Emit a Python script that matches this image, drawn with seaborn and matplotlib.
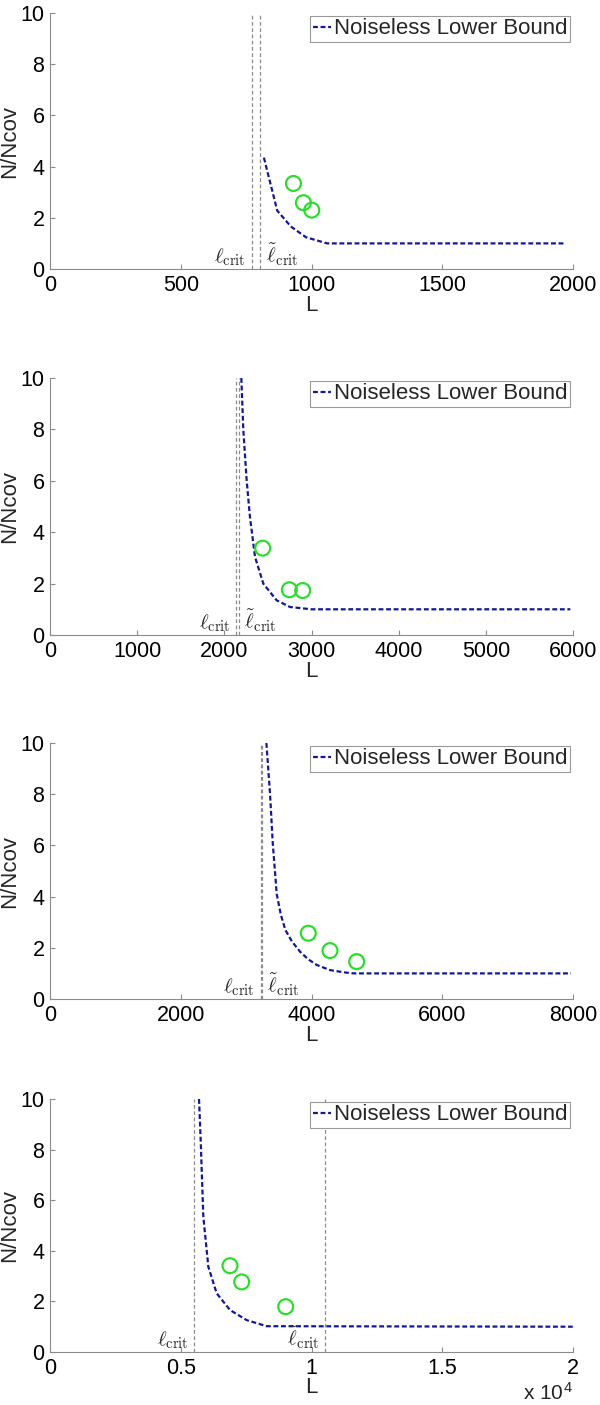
import numpy as np
import pandas as pd
import matplotlib
matplotlib.use("Agg")
import matplotlib.pyplot as plt
import seaborn as sns

# ---- data (L on x, N/Ncov on y) ----
# panel 1
bound_L1 = [818, 869, 921, 979, 1060, 1970]
bound_r1 = [4.35, 2.28, 1.66, 1.24, 1.0, 1.0]
sim_L1 = [931, 969, 1001]
sim_r1 = [3.34, 2.59, 2.30]
crit1, crit_tilde1 = 771, 803

# panel 2
bound_L2 = [2195, 2218, 2256, 2294, 2352, 2447, 2600, 2753, 3000, 5970]
bound_r2 = [10.0, 7.97, 6.02, 4.59, 3.04, 2.0, 1.35, 1.09, 1.0, 1.0]
sim_L2 = [2440, 2746, 2899]
sim_r2 = [3.38, 1.76, 1.73]
crit2, crit_tilde2 = 2134, 2164

# panel 3
bound_L3 = [3310, 3366, 3407, 3468, 3530, 3600, 3700, 3825, 3950, 4080, 4283, 4500, 4650, 7970]
bound_r3 = [10.0, 8.0, 6.1, 4.1, 3.3, 2.7, 2.25, 1.85, 1.55, 1.33, 1.13, 1.04, 1.0, 1.0]
sim_L3 = [3951, 4283, 4691]
sim_r3 = [2.57, 1.89, 1.46]
crit3, crit_tilde3 = 3222, 3238

# panel 4
bound_L4 = [5698, 5762, 5863, 6055, 6373, 6883, 7520, 8285, 19990]
bound_r4 = [10.0, 8.38, 5.35, 3.37, 2.32, 1.66, 1.26, 1.02, 1.0]
sim_L4 = [6883, 7331, 9013]
sim_r4 = [3.41, 2.77, 1.79]
crit4, crit_tilde4 = 5510, 10510

xmax = [2000, 6000, 8000, 20000]
xticks = [[0, 500, 1000, 1500, 2000],
          [0, 1000, 2000, 3000, 4000, 5000, 6000],
          [0, 2000, 4000, 6000, 8000],
          [0, 5000, 10000, 15000, 20000]]
xticklabels = [["0", "500", "1000", "1500", "2000"],
               ["0", "1000", "2000", "3000", "4000", "5000", "6000"],
               ["0", "2000", "4000", "6000", "8000"],
               ["0", "0.5", "1", "1.5", "2"]]
yticks = [0, 2, 4, 6, 8, 10]

bound_L = [bound_L1, bound_L2, bound_L3, bound_L4]
bound_r = [bound_r1, bound_r2, bound_r3, bound_r4]
sim_L = [sim_L1, sim_L2, sim_L3, sim_L4]
sim_r = [sim_r1, sim_r2, sim_r3, sim_r4]
crit = [crit1, crit2, crit3, crit4]
crit_tilde = [crit_tilde1, crit_tilde2, crit_tilde3, crit_tilde4]
tilde_side = ["right", "right", "right", "left"]

sns.set_theme(style="ticks")
plt.rcParams['font.family'] = ['Liberation Sans', 'DejaVu Sans']
plt.rcParams['mathtext.fontset'] = 'cm'

navy = "#12189a"
green = "#2edc2e"
gray = "#8c8c8c"

fig = plt.figure(figsize=(6, 14.05), dpi=100)
H = 1405.0
# axes boxes in pixels: (top, bottom)
rows = [(13, 269), (378, 635), (743, 999), (1099, 1352)]

for i in range(4):
    top, bot = rows[i]
    ax = fig.add_axes([50 / 600, 1 - bot / H, 523 / 600, (bot - top) / H])

    df = pd.DataFrame({"L": bound_L[i], "ratio": bound_r[i]})
    sns.lineplot(data=df, x="L", y="ratio", ax=ax, color=navy, linewidth=1.6,
                 sort=False, label="Noiseless Lower Bound")
    ax.lines[-1].set_linestyle((0, (2.2, 1.2)))

    sns.scatterplot(x=sim_L[i], y=sim_r[i], ax=ax, s=115, marker="o",
                    color=green, facecolor="none", edgecolor=green,
                    linewidth=1.6, legend=False, zorder=3)

    ax.axvline(crit[i], color=gray, lw=0.9, ls=(0, (3, 2)))
    ax.axvline(crit_tilde[i], color=gray, lw=0.9, ls=(0, (3, 2)))

    ax.annotate(r"$\ell_{\rm crit}$", xy=(crit[i], 0.25), xytext=(-4, 0),
                textcoords="offset points", ha="right", va="baseline",
                fontsize=15)
    if tilde_side[i] == "right":
        ax.annotate(r"$\tilde{\ell}_{\rm crit}$", xy=(crit_tilde[i], 0.25),
                    xytext=(4, 0), textcoords="offset points", ha="left",
                    va="baseline", fontsize=15)
    else:
        ax.annotate(r"$\tilde{\ell}_{\rm crit}$", xy=(crit_tilde[i], 0.25),
                    xytext=(-4, 0), textcoords="offset points", ha="right",
                    va="baseline", fontsize=15)

    ax.set_xlim(0, xmax[i])
    ax.set_ylim(0, 10)
    ax.set_xticks(xticks[i])
    ax.set_xticklabels(xticklabels[i])
    ax.set_yticks(yticks)
    ax.set_yticklabels([str(v) for v in yticks])
    ax.tick_params(direction="in", length=3.5, width=0.8, color=gray,
                   labelsize=15.5, pad=4, labelcolor="black")
    sns.despine(ax=ax)
    for s in ["left", "bottom"]:
        ax.spines[s].set_color(gray)
        ax.spines[s].set_linewidth(0.8)

    ax.set_xlabel("L", fontsize=16)
    ax.set_ylabel("N/Ncov", fontsize=16)
    ax.xaxis.set_label_coords(0.5, -0.1)
    ax.yaxis.set_label_coords(-0.058, 0.5)

    leg = ax.legend(loc="upper right", fontsize=16, frameon=True,
                    fancybox=False, edgecolor="#9a9a9a", framealpha=1,
                    borderpad=0.12, handlelength=0.8, handletextpad=0.15,
                    borderaxespad=0.12)
    leg.get_frame().set_linewidth(0.8)

fig.text(573 / 600, 0.0, r"x 10$^{\mathregular{4}}$", ha="right", va="bottom",
         fontsize=15)

fig.savefig("out.png", dpi=100)
